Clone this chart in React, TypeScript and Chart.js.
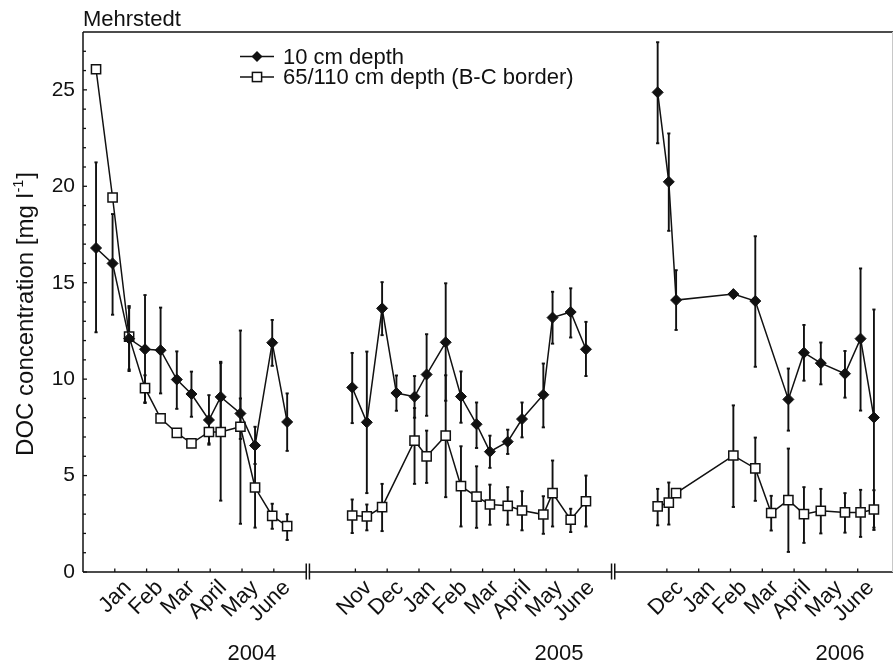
import React, { useEffect, useRef } from "react";
import { Chart, registerables } from "chart.js";

Chart.register(...registerables);

const FONT = "'Liberation Sans', Arial, Helvetica, sans-serif";
const INK = "#111111";

// ---- axis layout (axis unit = 1 month) ----
const SEG_OFFSETS = [0, 8.565, 18.36]; // axis position of month-start reference of each season
const SEG_FIRST_TICK = [1, 0, 0];
const SEG_MONTHS_1 = ["Jan", "Feb", "Mar", "April", "May", "June"];
const SEG_MONTHS_2 = ["Nov", "Dec", "Jan", "Feb", "Mar", "April", "May", "June"];
const SEG_MONTHS_3 = ["Dec", "Jan", "Feb", "Mar", "April", "May", "June"];
const BREAKS = [7.07, 16.67];
const X_MAX = 25.47;
const YEARS = ["2004", "2005", "2006"];
const YEAR_POS = [5.31, 14.97, 23.8];
const Y_TICKS = [0, 5, 10, 15, 20, 25];

// ---- season 1 (months after 1 Dec 2003) ----
const s1Dates = [0.41, 0.93, 1.45, 1.95, 2.44, 2.95, 3.41, 3.96, 4.33, 4.95, 5.41, 5.95, 6.42];
const s1Top = [16.8, 16.0, 12.1, 11.55, 11.5, 9.98, 9.23, 7.88, 9.08, 8.22, 6.56, 11.89, 7.78];
const s1TopHi = [21.24, 18.56, 13.79, 14.36, 13.71, 11.44, 10.39, 9.17, 10.83, 12.52, 7.53, 13.07, 9.26];
const s1TopLo = [12.43, 13.34, 10.42, 8.76, 9.26, 8.46, 8.05, 6.67, 7.4, 6.9, 5.6, 10.69, 6.28];
const s1Deep = [26.07, 19.42, 12.2, 9.53, 7.97, 7.21, 6.67, 7.26, 7.26, 7.53, 4.38, 2.91, 2.38];
const s1DeepHi = [null, null, 13.7, 10.2, null, null, null, 7.9, 10.9, 9.0, 6.4, 3.54, 3.0];
const s1DeepLo = [null, null, 10.5, 8.8, null, null, null, 6.6, 3.7, 2.5, 2.3, 2.24, 1.66];

// ---- season 2 (months after 1 Nov 2004) ----
const s2TopDates = [-0.1, 0.36, 0.84, 1.29, 1.86, 2.24, 2.84, 3.32, 3.81, 4.23, 4.79, 5.24, 5.91, 6.2, 6.77, 7.25];
const s2Top = [9.57, 7.76, 13.67, 9.28, 9.09, 10.24, 11.91, 9.1, 7.66, 6.24, 6.76, 7.93, 9.19, 13.19, 13.48, 11.55];
const s2TopHi = [11.36, 11.43, 15.03, 10.19, 10.16, 12.33, 14.97, 10.4, 8.79, 7.07, 7.38, 8.79, 10.81, 14.53, 14.71, 12.97];
const s2TopLo = [7.72, 4.09, 12.28, 8.36, 8.0, 8.1, 8.88, 7.74, 6.43, 5.4, 6.12, 6.98, 7.5, 11.84, 12.16, 10.16];
const s2DeepDates = [-0.1, 0.36, 0.84, 1.86, 2.24, 2.84, 3.32, 3.81, 4.23, 4.79, 5.24, 5.91, 6.2, 6.77, 7.25];
const s2Deep = [2.93, 2.88, 3.36, 6.81, 6.0, 7.07, 4.45, 3.91, 3.5, 3.43, 3.19, 2.98, 4.09, 2.71, 3.67];
const s2DeepHi = [3.76, 3.5, 4.57, 8.5, 7.33, 10.2, 6.52, 5.48, 4.53, 4.4, 4.19, 3.93, 5.78, 3.28, 5.0];
const s2DeepLo = [2.02, 2.16, 2.12, 4.57, 4.62, 3.88, 2.36, 2.29, 2.45, 2.45, 2.16, 1.98, 2.36, 2.07, 2.36];

// ---- season 3 (months after 1 Dec 2005) ----
const s3TopDates = [-0.29, 0.06, 0.29, 2.09, 2.78, 3.82, 4.31, 4.84, 5.6, 6.09, 6.51];
const s3Top = [24.87, 20.23, 14.1, 14.41, 14.05, 8.95, 11.37, 10.83, 10.28, 12.1, 8.01];
const s3TopHi = [27.47, 22.74, 15.65, null, 17.41, 10.55, 12.81, 11.9, 11.46, 15.74, 13.61];
const s3TopLo = [22.23, 17.69, 12.55, null, 10.64, 7.33, 9.92, 9.73, 9.04, 8.37, 2.3];
const s3DeepDates = [-0.29, 0.06, 0.29, 2.09, 2.78, 3.28, 3.82, 4.31, 4.84, 5.6, 6.09, 6.51];
const s3Deep = [3.4, 3.6, 4.09, 6.04, 5.37, 3.06, 3.73, 3.0, 3.17, 3.09, 3.09, 3.24];
const s3DeepHi = [4.31, 4.64, null, 8.64, 6.97, 3.95, 6.4, 4.4, 4.31, 4.09, 4.26, 4.24];
const s3DeepLo = [2.42, 2.46, null, 3.37, 3.69, 2.15, 1.04, 1.51, 2.0, 2.04, 1.82, 2.18];

const LEGEND_TOP = "10 cm depth";
const LEGEND_DEEP = "65/110 cm depth (B-C border)";
const TITLE = "Mehrstedt";

type Series = {
  kind: "top" | "deep";
  offset: number;
  dates: number[];
  vals: number[];
  hi: (number | null)[];
  lo: (number | null)[];
};

const SERIES: Series[] = [
  { kind: "top", offset: SEG_OFFSETS[0], dates: s1Dates, vals: s1Top, hi: s1TopHi, lo: s1TopLo },
  { kind: "deep", offset: SEG_OFFSETS[0], dates: s1Dates, vals: s1Deep, hi: s1DeepHi, lo: s1DeepLo },
  { kind: "top", offset: SEG_OFFSETS[1], dates: s2TopDates, vals: s2Top, hi: s2TopHi, lo: s2TopLo },
  { kind: "deep", offset: SEG_OFFSETS[1], dates: s2DeepDates, vals: s2Deep, hi: s2DeepHi, lo: s2DeepLo },
  { kind: "top", offset: SEG_OFFSETS[2], dates: s3TopDates, vals: s3Top, hi: s3TopHi, lo: s3TopLo },
  { kind: "deep", offset: SEG_OFFSETS[2], dates: s3DeepDates, vals: s3Deep, hi: s3DeepHi, lo: s3DeepLo },
];

const SEG_MONTHS = [SEG_MONTHS_1, SEG_MONTHS_2, SEG_MONTHS_3];
const X_TICK_VALUES: number[] = [];
const X_TICK_LABELS: string[] = [];
SEG_MONTHS.forEach((months, i) => {
  months.forEach((m, k) => {
    X_TICK_VALUES.push(SEG_OFFSETS[i] + SEG_FIRST_TICK[i] + k);
    X_TICK_LABELS.push(m);
  });
});

const TOP_STYLE = {
  pointStyle: "rectRot",
  pointRadius: 5.5,
  pointBackgroundColor: INK,
  pointBorderColor: INK,
  pointBorderWidth: 1,
};
const DEEP_STYLE = {
  pointStyle: "rect",
  pointRadius: 6.5,
  pointBackgroundColor: "#ffffff",
  pointBorderColor: INK,
  pointBorderWidth: 1.5,
};

function line(ctx: CanvasRenderingContext2D, x1: number, y1: number, x2: number, y2: number) {
  ctx.beginPath();
  ctx.moveTo(x1, y1);
  ctx.lineTo(x2, y2);
  ctx.stroke();
}

const errorBarPlugin = {
  id: "errorBars",
  beforeDatasetsDraw(chart: any) {
    const { ctx, scales } = chart;
    const xs = scales.x;
    const ys = scales.y;
    ctx.save();
    ctx.strokeStyle = INK;
    ctx.lineWidth = 1.9;
    SERIES.forEach((s) => {
      s.dates.forEach((d, i) => {
        const hi = s.hi[i];
        const lo = s.lo[i];
        if (hi == null || lo == null) return;
        const px = xs.getPixelForValue(s.offset + d);
        const pyH = ys.getPixelForValue(hi);
        const pyL = ys.getPixelForValue(lo);
        line(ctx, px, pyH, px, pyL);
        line(ctx, px - 1.6, pyH, px + 1.6, pyH);
        line(ctx, px - 1.6, pyL, px + 1.6, pyL);
      });
    });
    ctx.restore();
  },
};

const framePlugin = {
  id: "frame",
  afterDraw(chart: any) {
    const { ctx, chartArea: a, scales } = chart;
    const xs = scales.x;
    const ys = scales.y;
    ctx.save();
    ctx.strokeStyle = INK;
    ctx.lineWidth = 1.5;
    line(ctx, a.left, a.top, a.left, a.bottom);
    line(ctx, a.left, a.bottom, a.right, a.bottom);
    line(ctx, a.left, a.top, a.right, a.top);
    ctx.strokeStyle = "#c8c8c8";
    ctx.lineWidth = 1;
    line(ctx, a.right - 0.5, a.top, a.right - 0.5, a.bottom);

    ctx.strokeStyle = INK;
    ctx.lineWidth = 1.3;
    for (let v = 0; v <= 27; v++) {
      const py = ys.getPixelForValue(v);
      line(ctx, a.left, py, a.left + (v % 5 === 0 ? 4 : 3), py);
    }
    X_TICK_VALUES.forEach((v) => {
      const px = xs.getPixelForValue(v);
      line(ctx, px, a.bottom, px, a.bottom - 3.5);
    });
    ctx.lineWidth = 1.5;
    BREAKS.forEach((b) => {
      const px = xs.getPixelForValue(b);
      ctx.fillStyle = "#ffffff";
      ctx.fillRect(px - 1, a.bottom - 2, 2, 4);
      line(ctx, px - 1.6, a.bottom - 8.5, px - 1.6, a.bottom + 7.5);
      line(ctx, px + 1.6, a.bottom - 8.5, px + 1.6, a.bottom + 7.5);
    });

    // title
    ctx.fillStyle = INK;
    ctx.font = `22px ${FONT}`;
    ctx.textAlign = "left";
    ctx.textBaseline = "alphabetic";
    ctx.fillText(TITLE, a.left, 26);

    // years
    ctx.textAlign = "center";
    YEARS.forEach((yr, i) => {
      ctx.fillText(yr, xs.getPixelForValue(YEAR_POS[i]), 660);
    });

    // legend
    const lx1 = 240, lx2 = 274, lmx = 257, tx = 283;
    const rows: [string, "top" | "deep", number][] = [
      [LEGEND_TOP, "top", 56.5],
      [LEGEND_DEEP, "deep", 77],
    ];
    rows.forEach(([label, kind, ly]) => {
      ctx.strokeStyle = INK;
      ctx.lineWidth = 1.5;
      line(ctx, lx1, ly, lx2, ly);
      if (kind === "top") {
        ctx.fillStyle = INK;
        ctx.beginPath();
        ctx.moveTo(lmx, ly - 5.5);
        ctx.lineTo(lmx + 5.5, ly);
        ctx.lineTo(lmx, ly + 5.5);
        ctx.lineTo(lmx - 5.5, ly);
        ctx.closePath();
        ctx.fill();
      } else {
        ctx.fillStyle = "#ffffff";
        ctx.fillRect(lmx - 4.6, ly - 4.6, 9.2, 9.2);
        ctx.strokeRect(lmx - 4.6, ly - 4.6, 9.2, 9.2);
      }
      ctx.fillStyle = INK;
      ctx.font = `22px ${FONT}`;
      ctx.textAlign = "left";
      ctx.textBaseline = "middle";
      ctx.fillText(label, tx, ly + 1);
    });

    // y-axis title with superscript
    const main = "DOC concentration [mg l";
    const sup = "-1";
    const end = "]";
    ctx.save();
    ctx.translate(33, 314);
    ctx.rotate(-Math.PI / 2);
    ctx.textBaseline = "alphabetic";
    ctx.textAlign = "left";
    ctx.font = `24px ${FONT}`;
    const w1 = ctx.measureText(main).width;
    const w3 = ctx.measureText(end).width;
    ctx.font = `14px ${FONT}`;
    const w2 = ctx.measureText(sup).width;
    const total = w1 + w2 + w3 + 2;
    let sx = -total / 2;
    ctx.font = `24px ${FONT}`;
    ctx.fillText(main, sx, 0);
    sx += w1 + 1;
    ctx.font = `14px ${FONT}`;
    ctx.fillText(sup, sx, -10);
    sx += w2 + 1;
    ctx.font = `24px ${FONT}`;
    ctx.fillText(end, sx, 0);
    ctx.restore();

    ctx.restore();
  },
};

export default function App() {
  const canvasRef = useRef<HTMLCanvasElement | null>(null);

  useEffect(() => {
    const canvas = canvasRef.current;
    if (!canvas) return;
    const datasets = SERIES.map((s) => ({
      label: s.kind === "top" ? LEGEND_TOP : LEGEND_DEEP,
      data: s.dates.map((d, i) => ({ x: s.offset + d, y: s.vals[i] })),
      showLine: true,
      borderColor: INK,
      borderWidth: 1.5,
      tension: 0,
      ...(s.kind === "top" ? TOP_STYLE : DEEP_STYLE),
    }));

    const chart = new Chart(canvas, {
      type: "scatter",
      data: { datasets } as any,
      options: {
        animation: false,
        responsive: false,
        devicePixelRatio: 1,
        layout: { autoPadding: false, padding: { top: 32, right: 2, left: 0, bottom: 0 } },
        plugins: { legend: { display: false }, tooltip: { enabled: false } },
        scales: {
          x: {
            type: "linear",
            min: 0,
            max: X_MAX,
            grid: { display: false, drawTicks: false },
            border: { display: false },
            afterBuildTicks: (s: any) => {
              s.ticks = X_TICK_VALUES.map((v) => ({ value: v }));
            },
            afterFit: (s: any) => {
              s.height = 92;
              s.paddingLeft = 0;
              s.paddingRight = 0;
            },
            ticks: {
              autoSkip: false,
              minRotation: 45,
              maxRotation: 45,
              labelOffset: 13,
              padding: 3,
              color: INK,
              font: { family: FONT, size: 22 },
              callback: (_v: any, i: number) => X_TICK_LABELS[i],
            },
          },
          y: {
            type: "linear",
            min: 0,
            max: 28,
            grid: { display: false, drawTicks: false },
            border: { display: false },
            afterBuildTicks: (s: any) => {
              s.ticks = Y_TICKS.map((v) => ({ value: v }));
            },
            afterFit: (s: any) => {
              s.width = 83;
            },
            ticks: {
              padding: 8,
              color: INK,
              font: { family: FONT, size: 21 },
              callback: (v: any) => String(v),
            },
          },
        },
      } as any,
      plugins: [errorBarPlugin, framePlugin],
    });
    return () => chart.destroy();
  }, []);

  return (
    <div style={{ position: "fixed", left: 0, top: 0, width: 895, height: 664, background: "#fff" }}>
      <canvas ref={canvasRef} width={895} height={664} style={{ display: "block" }} />
    </div>
  );
}
